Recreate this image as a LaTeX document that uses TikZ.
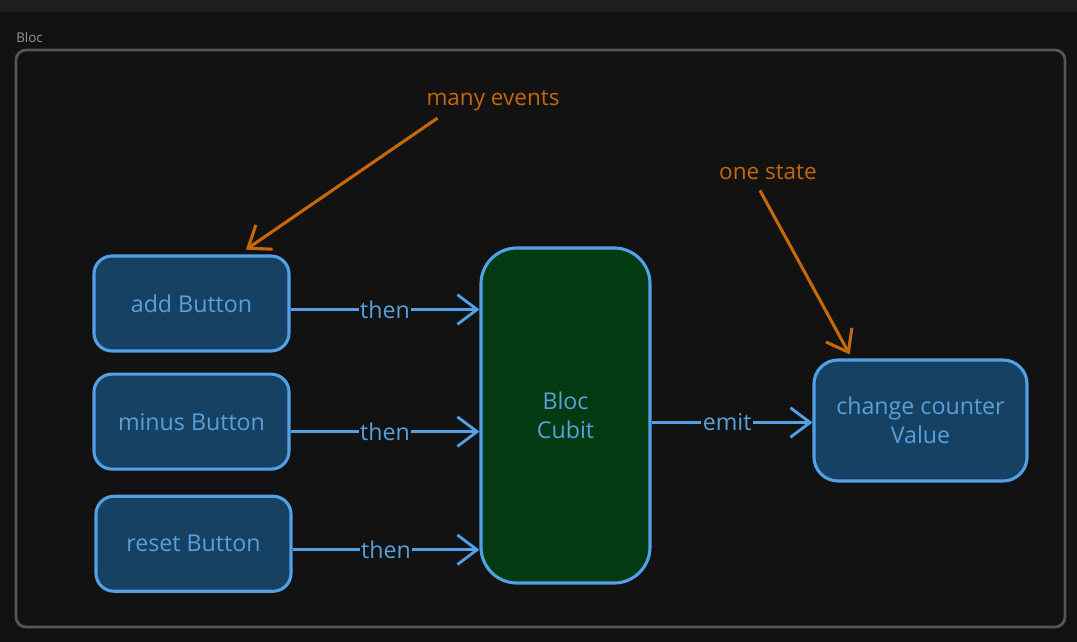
\documentclass[tikz,border=0pt]{standalone}
\usepackage{fontspec}
\setmainfont{Open Sans}
\usepackage{tikz}
\usetikzlibrary{arrows.meta,positioning,calc}
\definecolor{bgdark}{RGB}{18,18,18}
\definecolor{bgtop}{RGB}{30,30,30}
\definecolor{framegray}{RGB}{85,85,85}
\definecolor{labelgray}{RGB}{150,150,150}
\definecolor{skyline}{RGB}{82,160,230}
\definecolor{skytext}{RGB}{88,160,220}
\definecolor{deepblue}{RGB}{23,65,98}
\definecolor{deepgreen}{RGB}{3,58,18}
\definecolor{amber}{RGB}{196,104,10}

\tikzset{
  btnbox/.style={draw=skyline,line width=2.2pt,rounded corners=0.45cm,fill=deepblue,text=skytext,
    minimum width=4.875cm,minimum height=2.375cm,font=\fontsize{16.5}{21}\selectfont},
  cubitbox/.style={draw=skyline,line width=2.2pt,rounded corners=0.9cm,fill=deepgreen,text=skytext,
    minimum width=4.225cm,minimum height=8.375cm,align=center,font=\fontsize{16.5}{21}\selectfont},
  valuebox/.style={draw=skyline,line width=2.2pt,rounded corners=0.6cm,fill=deepblue,text=skytext,
    minimum width=5.325cm,minimum height=3.025cm,align=center,font=\fontsize{16.5}{21}\selectfont},
  flow/.style={draw=skyline,line width=2pt,-{Straight Barb[length=14pt,width=21pt,line width=2pt]}},
  flowlabel/.style={fill=bgdark,text=skytext,inner sep=1pt,font=\fontsize{16.5}{21}\selectfont},
  note/.style={text=amber,font=\fontsize{16}{20}\selectfont},
  notearrow/.style={draw=amber,line width=2.2pt,-{Straight Barb[length=14pt,width=21pt,line width=2.2pt]}}
}

\begin{document}
\begin{tikzpicture}[x=0.025cm,y=-0.025cm]
  % canvas
  \fill[bgdark] (0,0) rectangle (1077,642);
  \fill[bgtop] (0,0) rectangle (1077,12);
  \useasboundingbox (0,0) rectangle (1077,642);
  \node[anchor=west,text=labelgray,font=\fontsize{9.5}{11}\selectfont,inner sep=0pt] (title) at (16,37) {Bloc};
  \draw[framegray,line width=2pt,rounded corners=0.25cm] (16,50) rectangle (1065,627);

  % events
  \node[btnbox] (add) at (191.5,303.5) {add Button};
  \node[btnbox,below=0.5cm of add] (minus) {minus Button};
  \node[btnbox,below=0.6cm of minus,xshift=0.05cm] (reset) {reset Button};

  % bloc and state
  \node[cubitbox] (cubit) at (565.5,415.5) {Bloc\\Cubit};
  \node[valuebox] (value) at (920.5,420.5) {change counter\\Value};

  \draw[flow] ([yshift=-0.15cm]add.east) -- ([yshift=-0.15cm]add.east -| cubit.west) node[flowlabel,pos=0.5] {then};
  \draw[flow] ([yshift=-0.25cm]minus.east) -- ([yshift=-0.25cm]minus.east -| cubit.west) node[flowlabel,pos=0.5] {then};
  \draw[flow] ([yshift=-0.15cm]reset.east) -- ([yshift=-0.15cm]reset.east -| cubit.west) node[flowlabel,pos=0.5] {then};
  \draw[flow] ([yshift=-0.05cm]cubit.east |- value.west) -- ([yshift=-0.05cm]value.west) node[flowlabel,pos=0.47] {emit};

  % annotations
  \node[note] (events) at (493,101) {many events};
  \node[note] (state) at (768,172) {one state};
  \draw[notearrow] ([xshift=0.4cm,yshift=-0.05cm]events.south west) -- ([xshift=1.36cm,yshift=0.12cm]add.north);
  \draw[notearrow] ([xshift=-0.2cm,yshift=-0.15cm]state.south) -- ([xshift=0.93cm,yshift=0.1cm]value.north west);
\end{tikzpicture}
\end{document}
